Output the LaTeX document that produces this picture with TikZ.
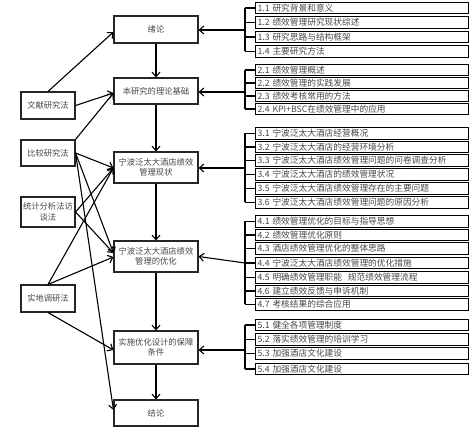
\documentclass[tikz,border=0pt]{standalone}
\usepackage{fontspec}
\setmainfont{Noto Sans CJK SC}
\usetikzlibrary{arrows.meta}
\begin{document}
\begin{tikzpicture}[x=1pt,y=-1pt,
  every node/.style={font=\fontsize{8.3}{10.5}\selectfont, text=black!72},
  mainbox/.style={draw=black!85, line width=1.1pt, minimum width=84pt, align=center, inner sep=1pt},
  leftbox/.style={draw=black!85, line width=1.1pt, minimum width=54pt, align=center, inner sep=1pt},
  rbox/.style={draw=black, line width=1.1pt, anchor=west, minimum width=213pt, text width=209pt, align=left, inner xsep=2pt, inner ysep=0pt, minimum height=11.5pt, font=\fontsize{8.7}{10}\selectfont},
  arr/.style={draw=black, line width=1.1pt, -{Straight Barb[length=4.5pt,width=8pt,line width=1.1pt]}},
  brk/.style={draw=black, line width=1.1pt}]
\useasboundingbox (0,0) rectangle (475,446);
% main column
\node[mainbox, minimum height=27pt] (m1) at (156,29.5) {绪论};
\node[mainbox, minimum height=26pt] (m2) at (156,91) {本研究的理论基础};
\node[mainbox, minimum height=31pt] (m3) at (156,167.5) {宁波泛太大酒店绩效\\管理现状};
\node[mainbox, minimum height=31pt] (m4) at (156,256.5) {宁波泛太大酒店绩效\\管理的优化};
\node[mainbox, minimum height=33pt] (m5) at (156,347.5) {实施优化设计的保障\\条件};
\node[mainbox, minimum height=26pt] (m6) at (156,413) {结论};
% left methods
\node[leftbox, minimum height=27pt] (l1) at (48,105.5) {文献研究法};
\node[leftbox, minimum height=26pt] (l2) at (48,153) {比较研究法};
\node[leftbox, minimum height=30pt] (l3) at (48,212) {统计分析法访\\谈法};
\node[leftbox, minimum height=27pt] (l4) at (48,298.5) {实地调研法};
% vertical flow
\draw[arr] (m1) -- (m2);
\draw[arr] (m2) -- (m3);
\draw[arr] (m3) -- (m4);
\draw[arr] (m4) -- (m5);
\draw[arr] (m5) -- (m6);
% method arrows
\draw[arr] (l1.north) -- ([yshift=-2.5pt]m1.west);
\draw[arr] (l1.east) -- ([yshift=-2pt]m2.west);
\draw[arr] (l2.north east) -- ([yshift=-2pt]m2.west);
\draw[arr] (l2.east) -- ([yshift=-0.5pt]m3.west);
\draw[arr] (l2.east) -- ([yshift=3.5pt]m4.west);
\draw[arr] (l2.east) -- ([yshift=3pt]m6.west);
\draw[arr] (l3.east) -- ([yshift=-0.5pt]m3.west);
\draw[arr] (l3.east) -- ([yshift=3.5pt]m4.west);
\draw[arr] (l4.north) -- ([yshift=-0.5pt]m3.west);
\draw[arr] (l4.north) -- ([yshift=-0.5pt]m4.west);
\draw[arr] (l4.south) -- ([yshift=-2.5pt]m5.west);
% group 1
\node[rbox] (r11) at (255,8) {1.1 研究背景和意义};
\node[rbox] (r12) at (255,22.5) {1.2 绩效管理研究现状综述};
\node[rbox] (r13) at (255,37) {1.3 研究思路与结构框架};
\node[rbox] (r14) at (255,51.5) {1.4 主要研究方法};
% group 2
\node[rbox] (r21) at (255,70) {2.1 绩效管理概述};
\node[rbox] (r22) at (255,83) {2.2 绩效管理的实践发展};
\node[rbox] (r23) at (255,96) {2.3 绩效考核常用的方法};
\node[rbox] (r24) at (255,109) {2.4 KPI+BSC在绩效管理中的应用};
% group 3
\node[rbox] (r31) at (255,133.5) {3.1 宁波泛太大酒店经营概况};
\node[rbox] (r32) at (255,147) {3.2 宁波泛太大酒店的经营环境分析};
\node[rbox] (r33) at (255,160.5) {3.3 宁波泛太大酒店绩效管理问题的问卷调查分析};
\node[rbox] (r34) at (255,174.5) {3.4 宁波泛太大酒店的绩效管理状况};
\node[rbox] (r35) at (255,188.5) {3.5 宁波泛太大酒店绩效管理存在的主要问题};
\node[rbox] (r36) at (255,202.5) {3.6 宁波泛太大酒店绩效管理问题的原因分析};
% group 4
\node[rbox] (r41) at (255,221.5) {4.1 绩效管理优化的目标与指导思想};
\node[rbox] (r42) at (255,235) {4.2 绩效管理优化原则};
\node[rbox] (r43) at (255,248.5) {4.3 酒店绩效管理优化的整体思路};
\node[rbox] (r44) at (255,263) {4.4 宁波泛太大酒店绩效管理的优化措施};
\node[rbox] (r45) at (255,277.5) {4.5 明确绩效管理职能\ \ 规范绩效管理流程};
\node[rbox] (r46) at (255,291) {4.6 建立绩效反馈与申诉机制};
\node[rbox] (r47) at (255,304.5) {4.7 考核结果的综合应用};
% group 5
\node[rbox] (r51) at (255,325) {5.1 健全各项管理制度};
\node[rbox] (r52) at (255,339.5) {5.2 落实绩效管理的培训学习};
\node[rbox] (r53) at (255,353.5) {5.3 加强酒店文化建设};
\node[rbox, minimum width=212pt] (r54) at (255,369) {5.4 加强酒店文化建设};
% brackets
\foreach \g/\n in {1/4,2/4,3/6,4/7,5/4}{
  \foreach \i in {1,...,\n}{
    \coordinate (b\g\i) at (245,0 |- r\g\i.west);
    \draw[brk] (b\g\i) -- (r\g\i.west);
  }
  \draw[brk] (b\g1) -- (b\g\n);
}
\coordinate (c1) at (245,30);
\coordinate (c2) at (245,92);
\coordinate (c3) at (245,168);
\coordinate (c4) at (245,263);
\coordinate (c5) at (245,350);
\draw[arr] (c1) -- (m1.east |- c1);
\draw[arr] (c2) -- (m2.east |- c2);
\draw[arr] (c3) -- (m3.east |- c3);
\draw[arr] (c4) -- (m4.east);
\draw[arr] (c5) -- (m5.east |- c5);
\end{tikzpicture}
\end{document}
